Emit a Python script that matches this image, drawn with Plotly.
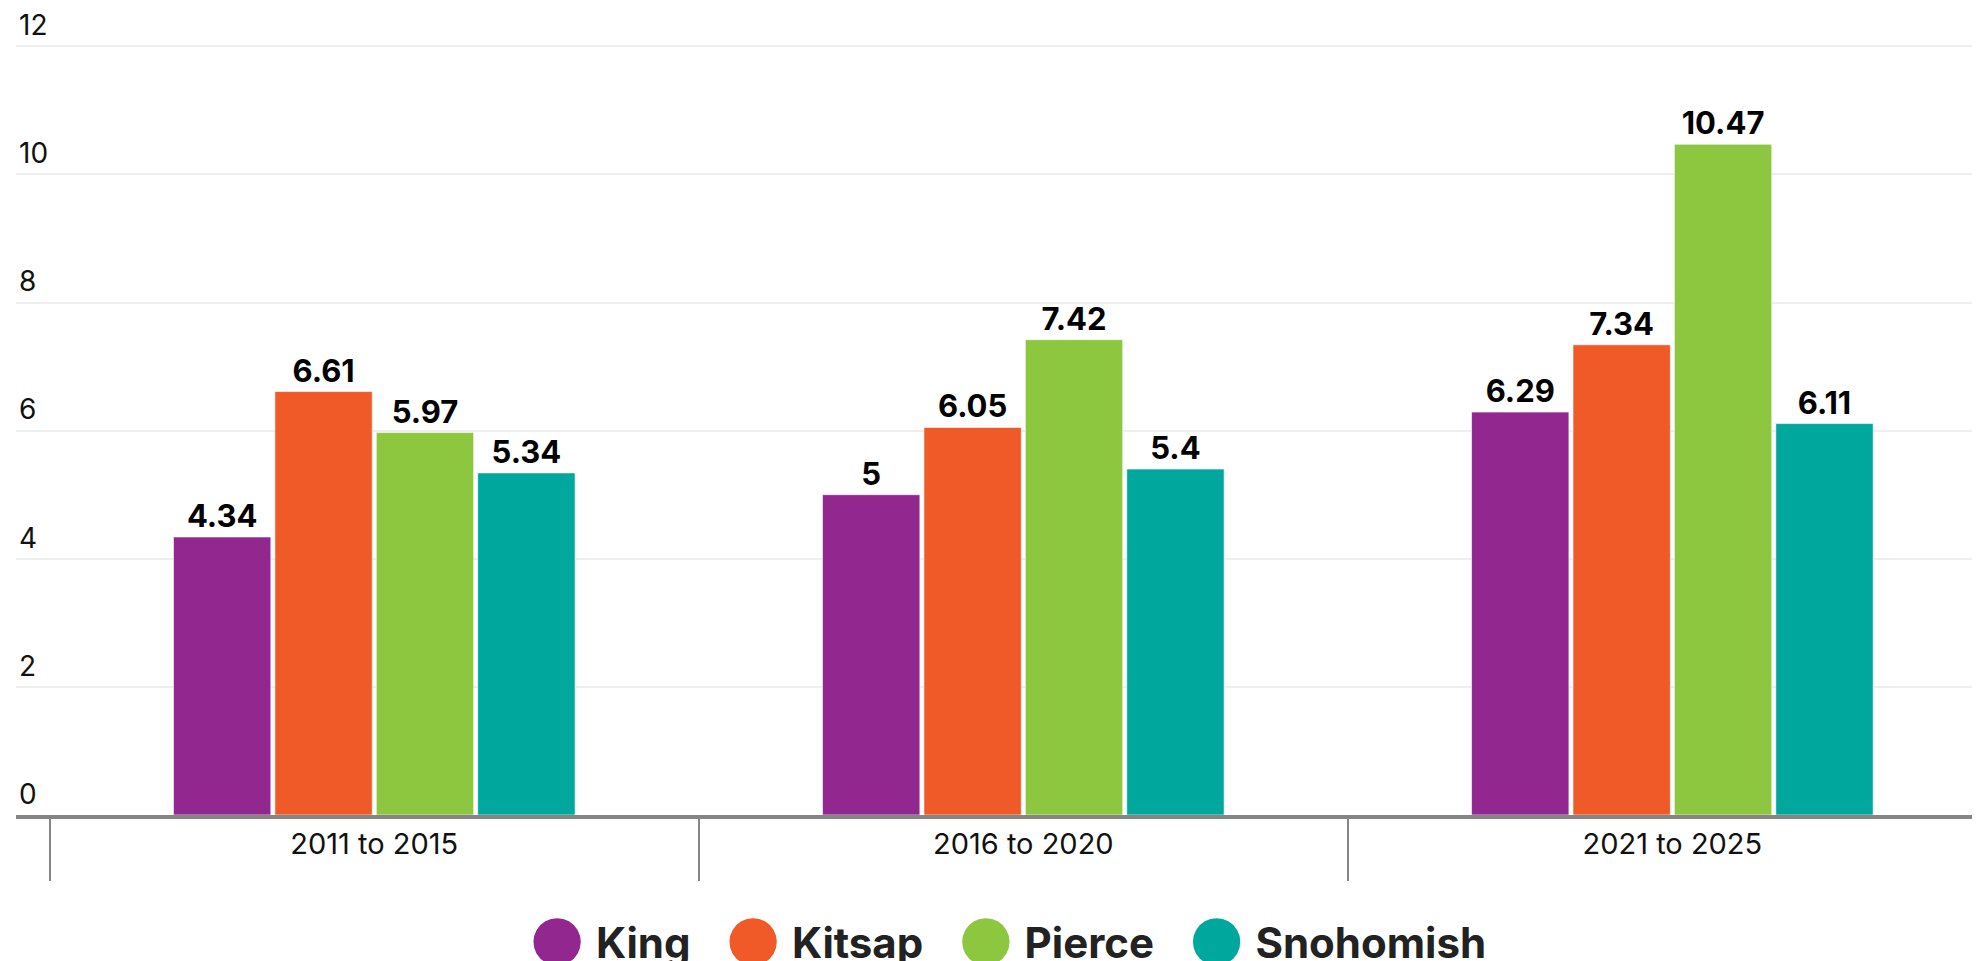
import plotly.graph_objects as go

periods = ["2011 to 2015", "2016 to 2020", "2021 to 2025"]
counties = ["King", "Kitsap", "Pierce", "Snohomish"]
colors = ["#92278F", "#F05A28", "#8DC63F", "#00A79D"]
king = [4.34, 5, 6.29]
kitsap = [6.61, 6.05, 7.34]
pierce = [5.97, 7.42, 10.47]
snohomish = [5.34, 5.4, 6.11]
series = [king, kitsap, pierce, snohomish]
y_ticks = [0, 2, 4, 6, 8, 10, 12]

FONT = "Inter, Poppins, Lato, sans-serif"

fig = go.Figure()
for name, vals, col in zip(counties, series, colors):
    fig.add_trace(
        go.Bar(
            x=periods,
            y=vals,
            name=name,
            marker=dict(color=col, line=dict(color="rgba(255,255,255,0.6)", width=1)),
            texttemplate="%{y}",
            textposition="outside",
            textfont=dict(family=FONT, size=31, color="#000000", weight=700),
            cliponaxis=False,
            showlegend=False,
        )
    )

# legend drawn as one centred line of coloured dots + bold names
legend_html = "&nbsp;&nbsp;&nbsp;".join(
    f"<span style='color:{c};font-size:62px;font-family:DejaVu Sans'>●</span>"
    f"&nbsp;<b>{n}</b>"
    for n, c in zip(counties, colors)
)
fig.add_annotation(
    text=legend_html,
    x=0.505,
    y=-0.158,
    xref="paper",
    yref="paper",
    xanchor="center",
    yanchor="middle",
    showarrow=False,
    font=dict(family=FONT, size=42, color="#222222"),
)

# page body adds an 8px margin, so the figure is sized to fit the window
fig.update_layout(
    barmode="group",
    bargap=0.375,
    bargroupgap=0.04,
    width=1972,
    height=953,
    paper_bgcolor="#ffffff",
    plot_bgcolor="#ffffff",
    font=dict(family=FONT, color="#111111"),
    margin=dict(l=8, r=0, t=37, b=146),
)
fig.update_xaxes(
    type="category",
    range=[-0.552, 2.474],
    automargin=False,
    showline=True,
    linecolor="#858585",
    linewidth=4,
    ticks="outside",
    tickson="boundaries",
    ticklen=62,
    tickwidth=2,
    tickcolor="#858585",
    ticklabelstandoff=0,
    tickfont=dict(family=FONT, size=29, color="#111111"),
    showgrid=False,
)
fig.update_yaxes(
    range=[0, 12.02],
    automargin=False,
    tickvals=y_ticks,
    ticklabelposition="inside",
    ticklabeloverflow="allow",
    ticklabelshift=-21,
    ticklabelstandoff=0,
    tickfont=dict(family=FONT, size=28, color="#111111"),
    showgrid=True,
    gridcolor="#eeeeee",
    gridwidth=2,
    zeroline=False,
    showline=False,
)

fig.write_html("out.html")
